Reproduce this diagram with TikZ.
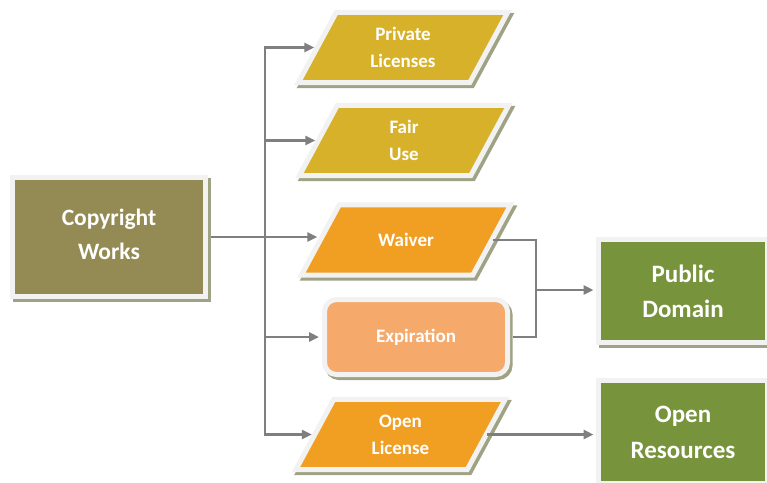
\documentclass[tikz,border=0pt]{standalone}
\usepackage{fontspec}
\setmainfont{Carlito}
\usetikzlibrary{arrows.meta,calc,backgrounds}

\definecolor{olivebox}{HTML}{948A54}
\definecolor{goldbox}{HTML}{D8B12A}
\definecolor{orangebox}{HTML}{F19F23}
\definecolor{peachbox}{HTML}{F5A96B}
\definecolor{greenbox}{HTML}{77933C}
\definecolor{rimc}{HTML}{F2F2F2}
\definecolor{shadowc}{HTML}{A0A284}
\definecolor{linkc}{HTML}{7F7F7F}

% slanted (parallelogram) outline behind a named text node
\newcommand\slantbox[2]{%
  \begin{pgfonlayer}{background}
    \draw[line width=5pt, draw=shadowc, fill=shadowc, line join=miter,
          transform canvas={shift={(2.5pt,-3pt)}}]
      ($(#1.south west)+(-19,0)$) -- ($(#1.south east)+(-19,0)$) --
      ($(#1.north east)+(19,0)$) -- ($(#1.north west)+(19,0)$) -- cycle;
    \draw[line width=5pt, draw=rimc, fill=#2, line join=miter]
      ($(#1.south west)+(-19,0)$) -- ($(#1.south east)+(-19,0)$) --
      ($(#1.north east)+(19,0)$) -- ($(#1.north west)+(19,0)$) -- cycle;
  \end{pgfonlayer}}

\begin{document}
\begin{tikzpicture}[x=1pt, y=-1pt,
  label text/.style={text=white, align=center, inner sep=0pt},
  boxed/.style={label text, line width=5pt, draw=rimc, fill=#1,
    preaction={draw=shadowc, fill=shadowc,
      transform canvas={shift={(2.5pt,-3pt)}}}},
  slantnode/.style={label text, minimum width=171pt, minimum height=70pt,
    font=\bfseries\fontsize{19}{27}\selectfont},
  conn/.style={draw=linkc, line width=2.5pt},
  arr/.style={conn, -{Triangle[length=10pt,width=9pt]}}]

\useasboundingbox (0,0) rectangle (767,482);

% source
\node[boxed=olivebox, minimum width=193pt, minimum height=119pt,
      font=\bfseries\fontsize{23.5}{34}\selectfont]
  (cw) at (109,237) {Copyright\\Works\rule[-6pt]{0pt}{0pt}};

% routes
\node[slantnode] (pl) at (403,47.5) {Private\\Licenses};
\node[slantnode] (fu) at (404,140.5) {Fair\\Use};
\node[slantnode] (wv) at (406,240) {Waiver};
\node[slantnode] (ol) at (400.5,434.5) {Open\\License};
\slantbox{pl}{goldbox}
\slantbox{fu}{goldbox}
\slantbox{wv}{orangebox}
\slantbox{ol}{orangebox}

\node[boxed=peachbox, rounded corners=12pt, minimum width=183pt,
      minimum height=75pt, font=\bfseries\fontsize{19}{27}\selectfont]
  (ex) at (416,337) {Expiration};

% outcomes
\node[boxed=greenbox, minimum width=169pt, minimum height=103pt,
      font=\bfseries\fontsize{25}{35}\selectfont]
  (pd) at (683,291) {Public\\Domain};
\node[boxed=greenbox, minimum width=169pt, minimum height=103pt,
      font=\bfseries\fontsize{25}{36}\selectfont]
  (or) at (683,432) {Open\\Resources};

% connectors
\coordinate (jn) at (265,237);
\coordinate (mj) at (536,290);
\draw[conn] ([xshift=2.5pt]cw.east) -- (jn);
\draw[arr] (jn) |- ([xshift=-3pt]pl.west);
\draw[arr] (jn) |- ([xshift=-3pt]fu.west);
\draw[arr] (jn) -- ([xshift=-3pt]wv.west |- jn);
\draw[arr] (jn) |- ([xshift=-3pt]ex.west);
\draw[arr] (jn) |- ([xshift=-3pt]ol.west);

\draw[conn] ([xshift=1pt]wv.east) -| (mj);
\draw[conn] ([xshift=2.5pt]ex.east) -| (mj);
\draw[arr] (mj) -- ([xshift=-2.5pt]pd.west |- mj);
\draw[arr] ([xshift=1pt]ol.east) -- ([xshift=-2.5pt]or.west |- ol.east);

\end{tikzpicture}
\end{document}
